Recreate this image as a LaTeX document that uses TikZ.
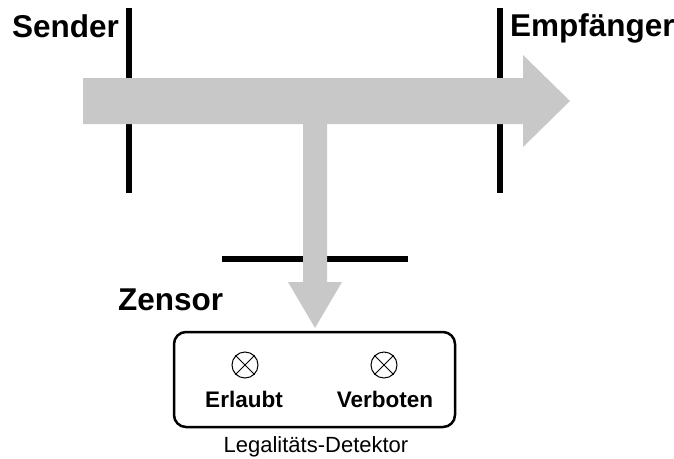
\documentclass[tikz,border=0pt]{standalone}
\usepackage{fontspec}
\setmainfont{Liberation Sans}
\definecolor{flowgray}{RGB}{200,200,200}
\begin{document}
\begin{tikzpicture}[x=1pt,y=-1pt,
  bar/.style={line width=6pt},
  flow/.style={fill=flowgray},
  title/.style={font=\fontsize{31.5}{36}\selectfont\bfseries, inner sep=0pt, anchor=base west},
  lamplabel/.style={font=\fontsize{22.5}{26}\selectfont\bfseries, inner sep=0pt, anchor=base},
  lamp/.style={draw, circle, line width=1pt, minimum size=26pt, inner sep=0pt},
  panel/.style={draw, line width=2.5pt, rounded corners=12pt, minimum width=281pt, minimum height=95pt}
]
\useasboundingbox (0,0) rectangle (674,458);

% end points of the bars
\coordinate (s1) at (129,8);   \coordinate (s2) at (129,193);
\coordinate (e1) at (500,8);   \coordinate (e2) at (500,193);
\coordinate (z1) at (222,259); \coordinate (z2) at (408,259);

\draw[bar] (s1) -- (s2);
\draw[bar] (e1) -- (e2);
\draw[bar] (z1) -- (z2);

% main channel, sender to receiver
\fill[flow] (83,78) -- (523,78) -- (523,55) -- (570,101) -- (523,147)
  -- (523,124) -- (83,124) -- cycle;
% branch down to the censor
\fill[flow] (303,123) -- (327,123) -- (327,282) -- (342,282) -- (315,328)
  -- (288,282) -- (303,282) -- cycle;

\node[title] (sender) at (12,37) {Sender};
\node[title] (empf) at (510,36) {Empfänger};
\node[title] (zensor) at (118,310) {Zensor};

\node[panel] (detector) at (314.5,379.5) {};
\node[lamp] (ok) at (245,365) {};
\node[lamp] (no) at (384,365) {};
\foreach \l in {ok,no} {
  \draw[line width=0.8pt] (\l.45) -- (\l.225);
  \draw[line width=0.8pt] (\l.135) -- (\l.315);
}
\node[lamplabel] (oklabel) at (244,407) {Erlaubt};
\node[lamplabel] (nolabel) at (385,407) {Verboten};
\node[font=\fontsize{22}{26}\selectfont, inner sep=0pt, anchor=base] (dlabel) at (316,452) {Legalitäts-Detektor};
\end{tikzpicture}
\end{document}
